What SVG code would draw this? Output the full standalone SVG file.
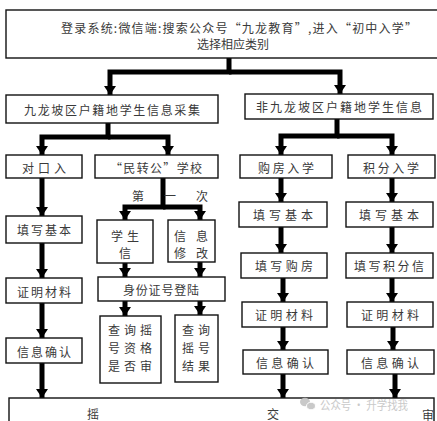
<svg xmlns="http://www.w3.org/2000/svg" width="437" height="421" viewBox="0 0 437 421">
<style>
.box{fill:#fff;stroke:#111;stroke-width:1.4}
.t{font-family:"Noto Sans CJK SC","Noto Sans",sans-serif;font-size:12px;fill:#3a3a3a;text-anchor:middle;dominant-baseline:central}
.c{fill:none;stroke:#000;stroke-width:5;stroke-linejoin:miter}
.wm{font-family:"Noto Sans CJK SC","Noto Sans",sans-serif;font-size:12px;fill:#c4c4c4;dominant-baseline:central}
</style>
<defs>
<marker id="ah" markerUnits="userSpaceOnUse" markerWidth="9" markerHeight="12" viewBox="0 0 9 12" refX="9" refY="6" orient="auto">
<path d="M0,0 L9,6 L0,12 z" fill="#000"/>
</marker>
</defs>
<rect width="437" height="421" fill="#fff"/>

<g id="connectors">
<path class="c" d="M229,58 V72 H110 V95" marker-end="url(#ah)"/>
<path class="c" d="M229,72 H340 V94" marker-end="url(#ah)"/>
<path class="c" d="M108,123 V137 H42 V155" marker-end="url(#ah)"/>
<path class="c" d="M108,137 H168 V155" marker-end="url(#ah)"/>
<path class="c" d="M163,178 V207 H125 V220" marker-end="url(#ah)"/>
<path class="c" d="M163,207 H200 V220" marker-end="url(#ah)"/>
<path class="c" d="M337,119 V136 H281 V155" marker-end="url(#ah)"/>
<path class="c" d="M337,136 H392 V155" marker-end="url(#ah)"/>
<path class="c" d="M42,178 V216" marker-end="url(#ah)"/>
<path class="c" d="M42,243 V278" marker-end="url(#ah)"/>
<path class="c" d="M42,303 V338" marker-end="url(#ah)"/>
<path class="c" d="M42,363 V398" marker-end="url(#ah)"/>
<path class="c" d="M125,263 V277" marker-end="url(#ah)"/>
<path class="c" d="M200,262 V277" marker-end="url(#ah)"/>
<path class="c" d="M125,301 V316" marker-end="url(#ah)"/>
<path class="c" d="M200,301 V315" marker-end="url(#ah)"/>
<path class="c" d="M281,178 V202" marker-end="url(#ah)"/>
<path class="c" d="M281,227 V253" marker-end="url(#ah)"/>
<path class="c" d="M283,278 V302" marker-end="url(#ah)"/>
<path class="c" d="M283,327 V350" marker-end="url(#ah)"/>
<path class="c" d="M283,374 V398" marker-end="url(#ah)"/>
<path class="c" d="M392,178 V202" marker-end="url(#ah)"/>
<path class="c" d="M392,227 V253" marker-end="url(#ah)"/>
<path class="c" d="M392,278 V302" marker-end="url(#ah)"/>
<path class="c" d="M393,327 V350" marker-end="url(#ah)"/>
<path class="c" d="M395,374 V398" marker-end="url(#ah)"/>
</g>

<g id="login">
<rect class="box" x="6" y="10" width="440" height="48"/>
<text class="t" x="239" y="27" textLength="356" lengthAdjust="spacing">登录系统:微信端:搜索公众号“九龙教育”,进入“初中入学”</text>
<text class="t" x="233" y="43">选择相应类别</text>
</g>

<g id="jlp">
<rect class="box" x="6" y="95" width="212" height="28"/>
<text class="t" x="112" y="109" textLength="176" lengthAdjust="spacing">九龙坡区户籍地学生信息采集</text>
</g>
<g id="fjlp">
<rect class="box" x="245" y="94" width="188" height="25"/>
<text class="t" x="339" y="106" textLength="166" lengthAdjust="spacing">非九龙坡区户籍地学生信息</text>
</g>

<g id="dkr">
<rect class="box" x="6" y="155" width="76" height="23"/>
<text class="t" x="44" y="167" textLength="44" lengthAdjust="spacing">对口入</text>
</g>
<g id="mzg">
<rect class="box" x="95" y="155" width="123" height="23"/>
<text class="t" x="156" y="167" textLength="92" lengthAdjust="spacing">“民转公”学校</text>
</g>
<g id="gfrx">
<rect class="box" x="240" y="155" width="92" height="23"/>
<text class="t" x="286" y="167" textLength="56" lengthAdjust="spacing">购房入学</text>
</g>
<g id="jfrx">
<rect class="box" x="348" y="155" width="87" height="23"/>
<text class="t" x="391" y="167" textLength="56" lengthAdjust="spacing">积分入学</text>
</g>

<g id="dyc">
<text class="t" x="138" y="195">第</text>
<text class="t" x="170" y="195">一</text>
<text class="t" x="202" y="195">次</text>
</g>

<g id="txjb1">
<rect class="box" x="6" y="216" width="76" height="27"/>
<text class="t" x="44" y="229" textLength="54" lengthAdjust="spacing">填写基本</text>
</g>
<g id="xsx">
<rect class="box" x="97" y="220" width="56" height="43"/>
<text class="t" x="125" y="235" textLength="28" lengthAdjust="spacing">学生</text>
<text class="t" x="125" y="252">信</text>
</g>
<g id="xxxg">
<rect class="box" x="168" y="220" width="47" height="42"/>
<text class="t" x="191" y="235" textLength="34" lengthAdjust="spacing">信 息</text>
<text class="t" x="191" y="252" textLength="34" lengthAdjust="spacing">修 改</text>
</g>
<g id="txjb2">
<rect class="box" x="239" y="202" width="88" height="25"/>
<text class="t" x="283" y="214" textLength="60" lengthAdjust="spacing">填写基本</text>
</g>
<g id="txjb3">
<rect class="box" x="346" y="202" width="87" height="25"/>
<text class="t" x="389" y="214" textLength="60" lengthAdjust="spacing">填写基本</text>
</g>

<g id="txgf">
<rect class="box" x="241" y="253" width="86" height="25"/>
<text class="t" x="284" y="265" textLength="58" lengthAdjust="spacing">填写购房</text>
</g>
<g id="txjf">
<rect class="box" x="346" y="253" width="87" height="25"/>
<text class="t" x="389" y="265" textLength="70" lengthAdjust="spacing">填写积分信</text>
</g>

<g id="zmcl1">
<rect class="box" x="6" y="278" width="76" height="25"/>
<text class="t" x="44" y="291" textLength="54" lengthAdjust="spacing">证明材料</text>
</g>
<g id="sfz">
<rect class="box" x="98" y="277" width="127" height="24"/>
<text class="t" x="161" y="289" textLength="76" lengthAdjust="spacing">身份证号登陆</text>
</g>
<g id="zmcl2">
<rect class="box" x="242" y="302" width="85" height="25"/>
<text class="t" x="284" y="314" textLength="58" lengthAdjust="spacing">证明材料</text>
</g>
<g id="zmcl3">
<rect class="box" x="347" y="302" width="86" height="25"/>
<text class="t" x="390" y="314" textLength="58" lengthAdjust="spacing">证明材料</text>
</g>

<g id="cxzg">
<rect class="box" x="100" y="316" width="61" height="67"/>
<text class="t" x="130" y="329" textLength="44" lengthAdjust="spacing">查询摇</text>
<text class="t" x="130" y="347" textLength="44" lengthAdjust="spacing">号资格</text>
<text class="t" x="130" y="365" textLength="44" lengthAdjust="spacing">是否审</text>
</g>
<g id="cxjg">
<rect class="box" x="175" y="315" width="43" height="67"/>
<text class="t" x="196" y="329" textLength="28" lengthAdjust="spacing">查询</text>
<text class="t" x="196" y="347" textLength="28" lengthAdjust="spacing">摇号</text>
<text class="t" x="196" y="365" textLength="28" lengthAdjust="spacing">结果</text>
</g>

<g id="xxqr1">
<rect class="box" x="6" y="338" width="76" height="25"/>
<text class="t" x="44" y="351" textLength="54" lengthAdjust="spacing">信息确认</text>
</g>
<g id="xxqr2">
<rect class="box" x="243" y="350" width="85" height="24"/>
<text class="t" x="285" y="362" textLength="58" lengthAdjust="spacing">信息确认</text>
</g>
<g id="xxqr3">
<rect class="box" x="347" y="350" width="87" height="24"/>
<text class="t" x="390" y="362" textLength="58" lengthAdjust="spacing">信息确认</text>
</g>

<g id="submit">
<rect class="box" x="9" y="398" width="425" height="40"/>
<text class="t" x="93" y="413">摇</text>
<text class="t" x="273" y="413">交</text>
<text class="t" x="428" y="414">审</text>
</g>

<g id="watermark" opacity="0.9">
<ellipse cx="305" cy="402" rx="5" ry="4.2" fill="#c4c4c4"/>
<ellipse cx="311" cy="406" rx="4.5" ry="3.8" fill="#c4c4c4" stroke="#fff" stroke-width="1"/>
<text class="wm" x="320" y="404" textLength="88" lengthAdjust="spacingAndGlyphs">公众号 · 升学找我</text>
</g>
</svg>
